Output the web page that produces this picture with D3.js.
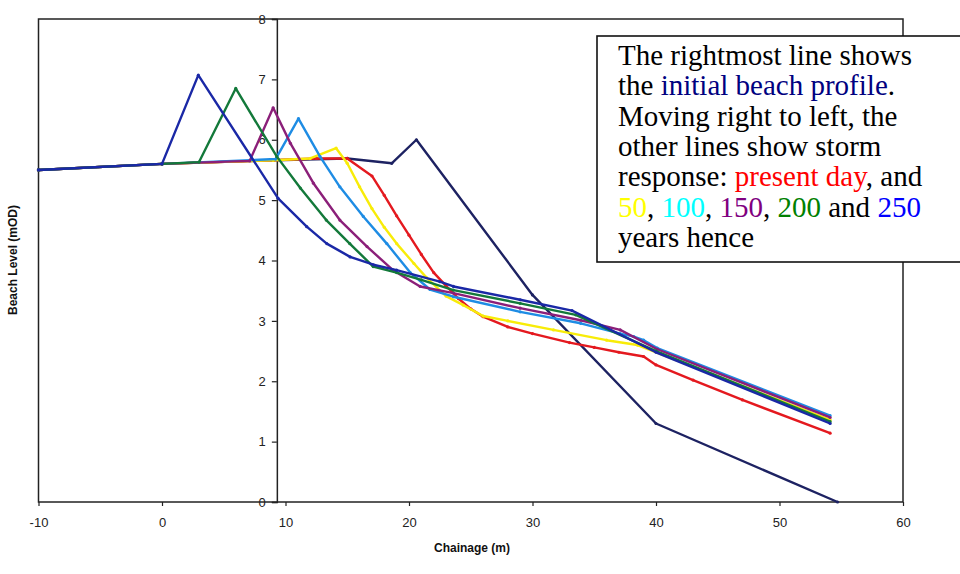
<!DOCTYPE html>
<html>
<head>
<meta charset="utf-8">
<script src="https://cdn.jsdelivr.net/npm/d3@7"></script>
<style>
  body { margin: 0; background: #ffffff; }
  svg { display: block; }
</style>
</head>
<body>
<div id="viz"></div>
<script>
var width = 960;
var height = 574;

// chainage (m) and beach level (mOD) for each profile
var initialX = [-10, 0, 9, 15, 18.6, 20.6, 30, 40, 54.7];
var initialY = [5.5, 5.6, 5.66, 5.69, 5.61, 6.0, 3.43, 1.3, 0];

var presentX = [-10, 0, 9, 12.5, 15, 17, 18, 19, 20, 21, 22, 23, 24, 25, 26, 28, 30, 33, 35, 37, 39, 40, 43, 47, 54.1];
var presentY = [5.5, 5.6, 5.66, 5.69, 5.69, 5.40, 5.08, 4.74, 4.42, 4.1, 3.8, 3.58, 3.37, 3.2, 3.07, 2.9, 2.79, 2.64, 2.56, 2.48, 2.41, 2.27, 2.02, 1.69, 1.14];

var yr50X = [-10, 0, 9, 12, 14.1, 15, 16, 17, 18, 19, 20.4, 21.4, 23, 24.4, 26, 28, 31.7, 36, 38.5, 54.1];
var yr50Y = [5.5, 5.6, 5.66, 5.69, 5.86, 5.61, 5.22, 4.86, 4.55, 4.28, 3.95, 3.72, 3.41, 3.26, 3.08, 3.0, 2.85, 2.68, 2.6, 1.36];

var yr100X = [-10, 0, 9.2, 11.05, 12.8, 14.4, 16.3, 18.2, 20.1, 21.7, 23.6, 29, 33.9, 37.1, 38.2, 39, 40.1, 54.1];
var yr100Y = [5.5, 5.6, 5.68, 6.35, 5.72, 5.22, 4.73, 4.28, 3.8, 3.52, 3.40, 3.15, 2.96, 2.79, 2.74, 2.68, 2.55, 1.43];

var yr150X = [-10, 0, 7.1, 9.0, 10.4, 12.26, 14.4, 16.6, 18.7, 20.9, 23.6, 29, 33.9, 37.1, 40.1, 54.1];
var yr150Y = [5.5, 5.6, 5.65, 6.53, 5.94, 5.28, 4.67, 4.23, 3.84, 3.57, 3.46, 3.21, 3.01, 2.85, 2.53, 1.40];

var yr200X = [-10, 0, 3.0, 5.97, 9.3, 11.2, 13.3, 15.2, 17.1, 19, 21, 23.6, 29, 33.5, 40, 54.1];
var yr200Y = [5.5, 5.6, 5.63, 6.85, 5.72, 5.2, 4.67, 4.28, 3.9, 3.8, 3.68, 3.51, 3.29, 3.1, 2.5, 1.33];

var yr250X = [-10, 0, 2.94, 9.4, 11.72, 13.34, 15.23, 17.12, 19, 22.5, 23.6, 29, 33.2, 40, 54.1];
var yr250Y = [5.5, 5.6, 7.07, 5.03, 4.56, 4.28, 4.06, 3.93, 3.84, 3.65, 3.57, 3.35, 3.17, 2.48, 1.30];

var xTicks = [-10, 0, 10, 20, 30, 40, 50, 60];
var yTicks = [0, 1, 2, 3, 4, 5, 6, 7, 8];

// drawn back to front
var profiles = [
  { name: "initial", xs: initialX, ys: initialY, color: "#1d2262" },
  { name: "present", xs: presentX, ys: presentY, color: "#e4191f" },
  { name: "50", xs: yr50X, ys: yr50Y, color: "#f8ec08" },
  { name: "100", xs: yr100X, ys: yr100Y, color: "#1e8ce4" },
  { name: "150", xs: yr150X, ys: yr150Y, color: "#8b1f79" },
  { name: "200", xs: yr200X, ys: yr200Y, color: "#13793a" },
  { name: "250", xs: yr250X, ys: yr250Y, color: "#1a28a6" }
];

var viz = d3.select("#viz")
  .append("svg")
  .attr("width", width)
  .attr("height", height);

var x = d3.scaleLinear().domain([-10, 60]).range([38.5, 903]);
var y = d3.scaleLinear().domain([0, 8]).range([502, 19]);

// plot frame
viz.append("rect")
  .attr("x", x(-10))
  .attr("y", y(8))
  .attr("width", x(60) - x(-10))
  .attr("height", y(0) - y(8))
  .attr("fill", "none")
  .attr("stroke", "#222")
  .attr("stroke-width", 1.5);

// x axis along the bottom (plain hyphen for negatives, as in the original)
var xAxis = viz.append("g")
  .attr("transform", "translate(0," + y(0) + ")")
  .call(d3.axisBottom(x).tickValues(xTicks).tickSize(4).tickPadding(12).tickFormat(function(d) { return String(d); }));
xAxis.select(".domain").remove();
xAxis.selectAll("line").attr("stroke", "#222").attr("stroke-width", 1.2);
xAxis.selectAll("text")
  .style("font-family", "Liberation Sans, Arial, sans-serif")
  .style("font-size", "13px")
  .style("fill", "#222");

// y axis crosses at chainage ~9.3
var yAxis = viz.append("g")
  .attr("transform", "translate(" + x(9.3) + ",0)")
  .call(d3.axisLeft(y).tickValues(yTicks).tickSize(5).tickPadding(6).tickFormat(function(d) { return String(d); }));
yAxis.select(".domain").attr("stroke", "#222").attr("stroke-width", 1.5);
yAxis.selectAll("line").attr("stroke", "#222").attr("stroke-width", 1.2);
yAxis.selectAll("text")
  .style("font-family", "Liberation Sans, Arial, sans-serif")
  .style("font-size", "13px")
  .style("fill", "#222");

// profiles
var line = d3.line()
  .x(function(d) { return x(d[0]); })
  .y(function(d) { return y(d[1]); });

profiles.forEach(function(p) {
  var pts = p.xs.map(function(v, i) { return [v, p.ys[i]]; });
  viz.append("path")
    .datum(pts)
    .attr("d", line)
    .attr("fill", "none")
    .attr("stroke", p.color)
    .attr("stroke-width", 2.4)
    .attr("stroke-linejoin", "round");
  viz.append("g").selectAll("circle")
    .data(pts)
    .enter()
    .append("circle")
    .attr("cx", function(d) { return x(d[0]); })
    .attr("cy", function(d) { return y(d[1]); })
    .attr("r", 1.6)
    .attr("fill", p.color);
});

// axis titles
viz.append("text")
  .attr("x", 472)
  .attr("y", 552)
  .attr("text-anchor", "middle")
  .style("font-family", "Liberation Sans, Arial, sans-serif")
  .style("font-size", "12px")
  .style("font-weight", "bold")
  .style("fill", "#111")
  .text("Chainage (m)");

viz.append("text")
  .attr("transform", "translate(17,260) rotate(-90)")
  .attr("text-anchor", "middle")
  .style("font-family", "Liberation Sans, Arial, sans-serif")
  .style("font-size", "12px")
  .style("font-weight", "bold")
  .style("fill", "#111")
  .text("Beach Level (mOD)");

// explanatory text box
var note = viz.append("g");
note.append("rect")
  .attr("x", 597)
  .attr("y", 36)
  .attr("width", 380)
  .attr("height", 226)
  .attr("fill", "#fff")
  .attr("stroke", "#111")
  .attr("stroke-width", 1.6);

var noteLines = [
  [["The rightmost line shows", "#000"]],
  [["the ", "#000"], ["initial beach profile", "#000080"], [".", "#000"]],
  [["Moving right to left, the", "#000"]],
  [["other lines show storm", "#000"]],
  [["response: ", "#000"], ["present day", "#ff0000"], [", and", "#000"]],
  [["50", "#ffff00"], [", ", "#000"], ["100", "#00ffff"], [", ", "#000"], ["150", "#800080"], [", ", "#000"], ["200", "#008000"], [" and ", "#000"], ["250", "#0000ff"]],
  [["years hence", "#000"]]
];

noteLines.forEach(function(parts, i) {
  var t = note.append("text")
    .attr("x", 618)
    .attr("y", 65 + i * 30.3)
    .style("font-family", "Liberation Serif, Times New Roman, serif")
    .style("font-size", "29px")
    .attr("xml:space", "preserve");
  parts.forEach(function(part) {
    t.append("tspan").attr("fill", part[1]).text(part[0]);
  });
});
</script>
</body>
</html>
